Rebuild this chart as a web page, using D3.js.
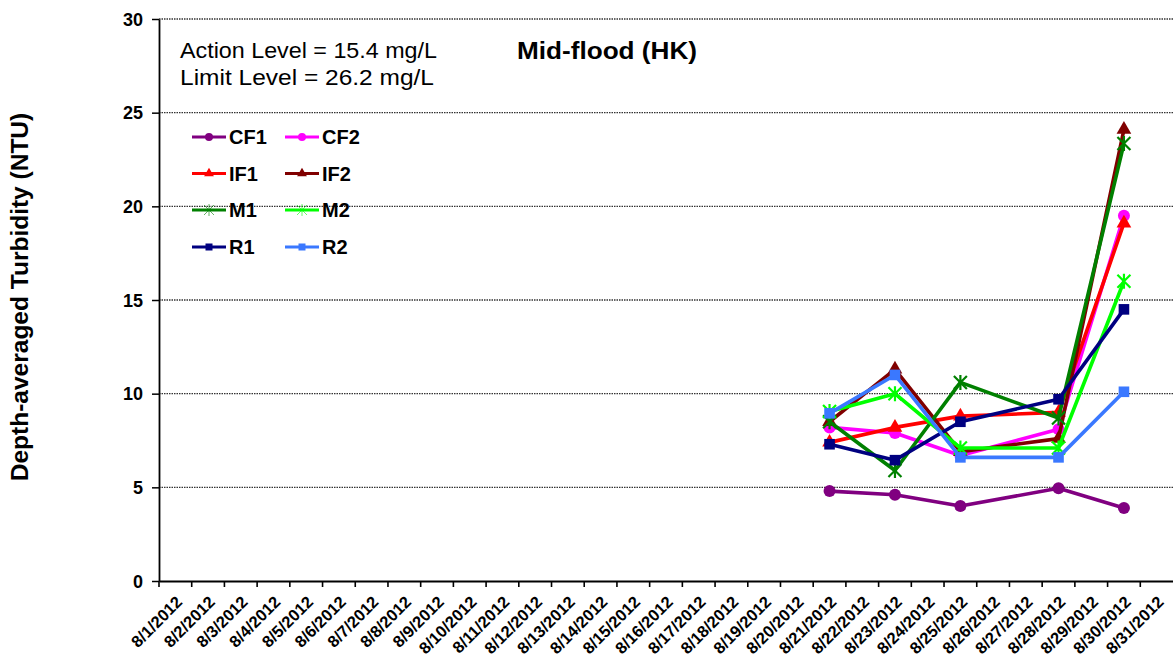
<!DOCTYPE html>
<html><head><meta charset="utf-8">
<script src="https://cdn.jsdelivr.net/npm/d3@7"></script>
<style>body{margin:0;background:#fff}svg{display:block;font-family:Arial,"Liberation Sans",sans-serif}</style>
</head><body><svg id="c" width="1173" height="666"></svg>
<script>
const categories = d3.range(1, 32).map(d => `8/${d}/2012`);
const sampleDates = ["8/21/2012", "8/23/2012", "8/25/2012", "8/28/2012", "8/30/2012"];
const CF1 = [4.8, 4.6, 4.0, 4.95, 3.9];
const CF2 = [8.2, 7.9, 6.7, 8.1, 19.5];
const IF1 = [7.4, 8.2, 8.8, 9.0, 19.1];
const IF2 = [8.5, 11.3, 6.9, 7.6, 24.1];
const M1 = [8.5, 5.9, 10.6, 8.7, 23.35];
const M2 = [9.05, 10.0, 7.1, 7.1, 16.0];
const R1 = [7.3, 6.45, 8.5, 9.7, 14.5];
const R2 = [8.95, 11.0, 6.6, 6.6, 10.1];
const yTicks = [0, 5, 10, 15, 20, 25, 30];

const series = [
  {name:"CF1", values:CF1, color:"#800080", marker:"circle"},
  {name:"CF2", values:CF2, color:"#ff00ff", marker:"circle"},
  {name:"IF1", values:IF1, color:"#ff0000", marker:"triangle"},
  {name:"IF2", values:IF2, color:"#800000", marker:"triangle"},
  {name:"M1", values:M1, color:"#008000", marker:"star"},
  {name:"M2", values:M2, color:"#00ff00", marker:"star"},
  {name:"R1", values:R1, color:"#000080", marker:"square"},
  {name:"R2", values:R2, color:"#3a78ff", marker:"square"}
];

(function(){
const svg = d3.select("#c");
const FONT = "Arial,'Liberation Sans',sans-serif";
const pL = 159, pR = 1173, pT = 19, pB = 581;
const x = d3.scaleBand().domain(categories).range([pL, pR]);
const y = d3.scaleLinear().domain([0, 30]).range([pB, pT]);

// gridlines
svg.append("g").selectAll("line").data(yTicks.filter(d => d > 0)).join("line")
  .attr("x1", pL).attr("x2", pR).attr("y1", d => y(d)).attr("y2", d => y(d))
  .attr("stroke", "#333").attr("stroke-width", 1.3).attr("stroke-dasharray", "1.5,1");

// y axis
const ya = svg.append("g").attr("transform", `translate(${pL},0)`)
  .call(d3.axisLeft(y).tickValues(yTicks).tickSize(7).tickSizeOuter(0));
ya.select(".domain").attr("stroke", "#000").attr("stroke-width", 1.8);
ya.selectAll(".tick line").attr("stroke", "#000").attr("stroke-width", 1.5);
ya.selectAll("text").attr("font-size", 18).attr("font-weight", "bold").attr("fill", "#000")
  .attr("font-family", FONT).attr("x", -16).attr("dy", "0.35em");

// x axis
const xa = svg.append("g").attr("transform", `translate(0,${pB})`)
  .call(d3.axisBottom(x).tickSize(0).tickSizeOuter(0));
xa.select(".domain").attr("stroke", "#000").attr("stroke-width", 2.2);
xa.selectAll(".tick text").attr("font-size", 16.5).attr("font-weight", "bold").attr("fill", "#000")
  .attr("font-family", FONT)
  .attr("text-anchor", "end").attr("dy", 0).attr("y", 0)
  .attr("transform", "translate(8,22) rotate(-45)");
// boundary ticks
svg.append("g").selectAll("line").data(categories).join("line")
  .attr("x1", d => x(d)).attr("x2", d => x(d)).attr("y1", pB).attr("y2", pB + 6)
  .attr("stroke", "#000").attr("stroke-width", 1.6);

const cx = d => x(d) + x.bandwidth() / 2;
const line = d3.line().x(d => cx(d.date)).y(d => y(d.v));

function drawMarker(g, type, color, size, thin) {
  if (type === "circle") g.append("circle").attr("r", size).attr("fill", color);
  else if (type === "square") g.append("rect").attr("x", -size).attr("y", -size).attr("width", 2*size).attr("height", 2*size).attr("fill", color);
  else if (type === "triangle") g.append("path").attr("d", d3.symbol(d3.symbolTriangle, size*size*2.6)()).attr("fill", color);
  else if (type === "star") {
    const s = size;
    g.append("path").attr("d", `M${-s},${-s}L${s},${s}M${-s},${s}L${s},${-s}M0,${-s-1}L0,${s+1}`)
      .attr("stroke", color).attr("stroke-width", thin ? 1 : 2.2).attr("fill", "none")
      .attr("opacity", thin ? 0.6 : 1);
  }
}

const markerSize = {circle: 6, square: 5.3, triangle: 6, star: 6.5};
series.forEach(s => {
  const pts = s.values.map((v, i) => ({date: sampleDates[i], v}));
  const g = svg.append("g");
  g.append("path").datum(pts).attr("d", line).attr("fill", "none")
    .attr("stroke", s.color).attr("stroke-width", 3.6).attr("stroke-linejoin", "round");
  pts.forEach(p => {
    const mg = g.append("g").attr("transform", `translate(${cx(p.date)},${y(p.v)})`);
    drawMarker(mg, s.marker, s.color, markerSize[s.marker]);
  });
});

// legend
const legCols = [192, 285];
const legRows = [137, 173.5, 210, 247];
const legMarker = {circle: 4, square: 3.5, triangle: 4, star: 5};
series.forEach((s, i) => {
  const lx = legCols[i % 2], ly = legRows[Math.floor(i / 2)];
  const g = svg.append("g").attr("transform", `translate(${lx},${ly})`);
  g.append("line").attr("x1", 0).attr("x2", 34).attr("y1", 0).attr("y2", 0)
    .attr("stroke", s.color).attr("stroke-width", 3);
  const mg = g.append("g").attr("transform", "translate(17,0)");
  drawMarker(mg, s.marker, s.color, legMarker[s.marker], true);
  g.append("text").attr("x", 37).attr("y", 7).attr("font-size", 20).attr("font-weight", "bold")
    .attr("fill", "#000").text(s.name);
});

// annotations
svg.append("text").attr("x", 180).attr("y", 58).attr("font-size", 22).attr("fill", "#000")
  .attr("textLength", 257).attr("lengthAdjust", "spacingAndGlyphs").text("Action Level = 15.4 mg/L");
svg.append("text").attr("x", 180).attr("y", 85).attr("font-size", 22).attr("fill", "#000")
  .attr("textLength", 254).attr("lengthAdjust", "spacingAndGlyphs").text("Limit Level = 26.2 mg/L");
svg.append("text").attr("x", 517).attr("y", 59).attr("font-size", 23).attr("font-weight", "bold").attr("fill", "#000")
  .attr("textLength", 180).attr("lengthAdjust", "spacingAndGlyphs").text("Mid-flood (HK)");

// y title
svg.append("text").attr("transform", "translate(28,297) rotate(-90)").attr("text-anchor", "middle")
  .attr("font-size", 24.5).attr("font-weight", "bold").attr("fill", "#000").text("Depth-averaged Turbidity (NTU)");
})();
</script></body></html>
